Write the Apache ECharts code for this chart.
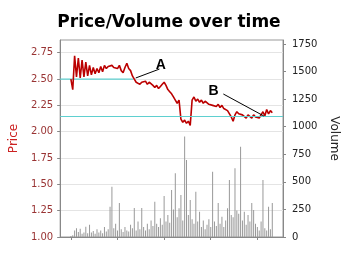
<!DOCTYPE html>
<html><head><meta charset="utf-8">
<script src="https://cdn.jsdelivr.net/npm/echarts@6/dist/echarts.min.js"></script>
<style>html,body{margin:0;padding:0;background:#fff}#c{width:362px;height:257px}</style>
</head><body><div id="c"></div>
<script>
var titleText = 'Price/Volume over time';
var priceTicks = [1.00, 1.25, 1.50, 1.75, 2.00, 2.25, 2.50, 2.75];
var volumeTicks = [0, 250, 500, 750, 1000, 1250, 1500, 1750];
var timeTicks = [0, 100, 200, 300, 400];
var upperLevel = 2.5;
var lowerLevel = 2.15;
var price = [2.50,2.40,2.72,2.52,2.70,2.51,2.68,2.52,2.66,2.53,2.63,2.54,2.61,2.55,2.60,2.56,2.62,2.57,2.63,2.60,
 2.62,2.61,2.63,2.61,2.62,2.60,2.63,2.58,2.56,2.61,2.65,2.60,2.58,2.53,2.50,2.47,2.48,2.45,2.47,2.46,
 2.48,2.45,2.47,2.46,2.44,2.42,2.44,2.41,2.43,2.45,2.47,2.44,2.40,2.38,2.36,2.33,2.30,2.27,2.30,2.12,
 2.09,2.11,2.08,2.10,2.06,2.30,2.33,2.29,2.31,2.28,2.30,2.27,2.29,2.30,2.26,2.27,2.25,2.26,2.24,2.26,
 2.23,2.25,2.22,2.23,2.20,2.21,2.14,2.10,2.16,2.19,2.17,2.18,2.16,2.17,2.13,2.16,2.15,2.13,2.16,2.14,
 2.15,2.13,2.16,2.19,2.15,2.21,2.17,2.20,2.18];
var volume = [10,15,60,80,45,75,30,40,93,35,110,40,55,30,70,40,60,35,90,50,
 70,275,456,80,120,60,308,70,45,90,60,50,110,80,263,60,140,70,263,90,
 60,120,70,150,100,320,120,90,170,110,372,140,200,130,426,250,578,180,260,381,
 150,910,698,200,336,160,120,411,140,230,90,150,70,110,160,90,592,140,100,308,
 120,184,90,150,260,517,200,180,623,240,210,819,150,230,110,200,140,308,245,120,
 90,60,140,517,80,60,275,70,308];
var step = 4;
var days = price.map(function(_, i){ return i * step; });
var priceData = days.map(function(d, i){ return [d, price[i]]; });
var volumeData = days.map(function(d, i){ return [d, volume[i]]; });

var cyan = {color: '#5fd0d0', width: 1.2, type: 'solid'};
var blackLine = {color: '#000', width: 1, type: 'solid'};
var annoLabel = {show: true, position: 'inside', color: '#000', fontSize: 14, fontWeight: 'bold', fontFamily: 'Liberation Sans'};

var chart = echarts.init(document.getElementById('c'), null, {renderer:'canvas'});
chart.setOption({
  animation: false,
  title: {text: titleText, left: 164, textAlign: 'center', top: 9,
    textStyle: {fontFamily: 'DejaVu Sans', fontSize: 17, fontWeight: 'bold', color: '#000'}},
  grid: {left: 52, right: 79, top: 40, bottom: 20, show: true, borderColor: '#999', borderWidth: 1, backgroundColor: '#fff'},
  xAxis: {type: 'value', min: -23, max: 455,
    axisLine: {show: true, onZero: false, lineStyle: {color: '#888'}},
    axisTick: {show: true, inside: false, length: 3, customValues: timeTicks, lineStyle: {color: '#888'}},
    axisLabel: {show: false}, splitLine: {show: false}},
  yAxis: [
    {type: 'value', min: 1, max: 2.871, interval: 0.25, position: 'left',
     name: 'Price', nameLocation: 'middle', nameGap: 40, nameRotate: 90,
     nameTextStyle: {color: '#cc2222', fontSize: 12, fontFamily: 'DejaVu Sans'},
     axisLine: {show: true, onZero: false, lineStyle: {color: '#888'}},
     axisTick: {show: true, length: 3, customValues: priceTicks, lineStyle: {color: '#888'}},
     axisLabel: {customValues: priceTicks, margin: 7, color: '#993333', fontSize: 10, fontFamily: 'DejaVu Sans',
       formatter: function(v){ return v.toFixed(2); }},
     splitLine: {show: true, lineStyle: {color: '#e4e4e4', width: 1}}},
    {type: 'value', min: 0, max: 1786, interval: 250, position: 'right',
     name: 'Volume', nameLocation: 'middle', nameGap: 38, nameRotate: -90,
     nameTextStyle: {color: '#222', fontSize: 12, fontFamily: 'DejaVu Sans'},
     axisLine: {show: true, onZero: false, lineStyle: {color: '#888'}},
     axisTick: {show: true, length: 3, customValues: volumeTicks, lineStyle: {color: '#888'}},
     axisLabel: {customValues: volumeTicks, margin: 9, color: '#222', fontSize: 10, fontFamily: 'DejaVu Sans',
       formatter: function(v){ return String(v); }},
     splitLine: {show: false}}
  ],
  series: [
    {type: 'bar', yAxisIndex: 1, data: volumeData, barWidth: 1, itemStyle: {color: '#999'}, z: 1},
    {type: 'line', yAxisIndex: 0, data: [[-23, upperLevel], [134, upperLevel]], showSymbol: false, symbol: 'none',
     lineStyle: cyan, z: 2, silent: true},
    {type: 'line', yAxisIndex: 0, data: priceData, showSymbol: false, symbol: 'none',
     lineStyle: {color: '#bb0000', width: 1.6}, z: 3,
     markLine: {silent: true, symbol: ['none', 'none'], animation: false, label: {show: false}, lineStyle: cyan,
       data: [
         [{coord: [-23, lowerLevel]}, {coord: [455, lowerLevel]}],
         [{coord: [190, 2.595], lineStyle: blackLine}, {coord: [139, 2.51]}],
         [{coord: [327, 2.358], lineStyle: blackLine}, {coord: [414, 2.149]}]
       ]},
     markPoint: {silent: true, symbol: 'circle', symbolSize: 1, itemStyle: {color: 'rgba(0,0,0,0)'}, animation: false,
       data: [
         {coord: [193, 2.633], label: Object.assign({formatter: 'A'}, annoLabel)},
         {coord: [306, 2.386], label: Object.assign({formatter: 'B'}, annoLabel)}
       ]}}
  ]
});
</script></body></html>
